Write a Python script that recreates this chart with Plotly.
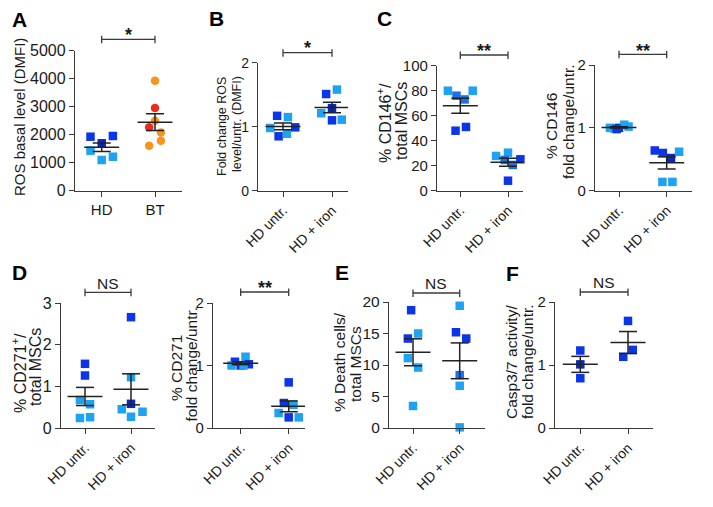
import numpy as np
import plotly.graph_objects as go

W, H = 713, 507
FONT = "Liberation Sans, Arial, sans-serif"

# ---------------- data ----------------
cats_ab = ["HD", "BT"]
cats = ["HD untr.", "HD + iron"]

a_hd = [1929, 1954, 1693, 1429, 1096, 1214]
a_hd_jit = [-0.21, 0.21, 0, -0.21, 0, 0.21]
a_hd_col = ["d", "d", "n", "l", "l", "l"]
a_bt = [3929, 2954, 2500, 2262, 2083, 1786, 1607]
a_bt_jit = [0, 0, 0, -0.11, 0.11, 0.11, -0.11]
a_bt_col = ["o", "r", "o", "r", "o", "o", "o"]

b_untr = [1.17, 1.15, 0.98, 0.99, 0.85, 0.89]
b_untr_jit = [-0.12, 0.10, -0.26, 0.25, -0.09, 0.08]
b_untr_col = ["d", "l", "l", "d", "d", "l"]
b_iron = [1.58, 1.51, 1.29, 1.21, 1.10, 1.11]
b_iron_jit = [0.10, -0.12, 0, -0.22, 0, 0.20]
b_iron_col = ["l", "d", "n", "l", "d", "l"]

c1_untr = [80, 80, 76, 73, 51, 48]
c1_untr_jit = [-0.26, 0.26, -0.08, 0.09, 0.12, -0.10]
c1_untr_col = ["l", "l", "m", "m", "d", "d"]
c1_iron = [30.4, 27.8, 24.6, 25.1, 20.6, 8.0]
c1_iron_jit = [0, -0.25, -0.07, 0.26, 0.10, 0]
c1_iron_col = ["l", "l", "m", "d", "m", "d"]

c2_untr = [1.0, 0.99, 1.0, 1.05, 1.02, 0.98]
c2_untr_jit = [-0.19, -0.10, 0, 0.11, 0.20, -0.05]
c2_untr_col = ["l", "l", "d", "l", "l", "d"]
c2_iron = [0.64, 0.60, 0.52, 0.62, 0.14, 0.14]
c2_iron_jit = [-0.25, -0.08, 0.09, 0.26, -0.09, 0.12]
c2_iron_col = ["d", "d", "n", "l", "l", "l"]

d1_untr = [1.54, 1.26, 0.67, 0.57, 0.24, 0.26]
d1_untr_jit = [0, 0, -0.11, 0.11, -0.11, 0.11]
d1_untr_col = ["d", "d", "l", "l", "l", "l"]
d1_iron = [2.66, 1.22, 0.58, 0.45, 0.39, 0.27]
d1_iron_jit = [0, 0, 0, -0.20, 0.25, 0]
d1_iron_col = ["d", "l", "n", "l", "l", "l"]

d2_untr = [1.06, 1.14, 1.0, 1.0, 1.02, 1.0]
d2_untr_jit = [-0.12, 0.10, -0.19, 0, 0.17, 0.06]
d2_untr_col = ["d", "l", "l", "d", "d", "l"]
d2_iron = [0.73, 0.40, 0.37, 0.24, 0.17, 0.17]
d2_iron_jit = [0, -0.10, 0.10, -0.21, 0, 0.21]
d2_iron_col = ["d", "d", "l", "l", "d", "l"]

e_untr = [18.7, 15.0, 14.2, 11.1, 9.6, 3.5]
e_untr_jit = [-0.04, 0.11, -0.11, -0.11, 0.11, 0]
e_untr_col = ["d", "l", "d", "l", "l", "l"]
e_iron = [19.4, 15.2, 14.2, 8.4, 6.7, 0.1]
e_iron_jit = [0, -0.08, 0.14, 0, 0, 0]
e_iron_col = ["l", "d", "d", "m", "l", "l"]

f_untr = [1.23, 1.01, 0.79]
f_untr_jit = [0, 0, 0]
f_untr_col = ["d", "n", "d"]
f_iron = [1.70, 1.24, 1.13]
f_iron_jit = [0, 0.10, -0.10]
f_iron_col = ["d", "d", "d"]

COL = {"d": "#0b35ea", "n": "#0a26c8", "m": "#1a72e6", "l": "#1ea2f2",
       "o": "#f7941d", "r": "#ec2b1d"}

# ---------------- panel geometry (pixels) ----------------
panels = [
    dict(letter="A", lpos=(19, 20), x0=75, c0=101.7, c1=155, x1=182, ytop=50.7, ybot=190.7,
         ymax=5000, yt=[0, 1000, 2000, 3000, 4000, 5000], ticktext=cats_ab, angle=0, tf=16,
         groups=[(a_hd, a_hd_jit, a_hd_col, "square"), (a_bt, a_bt_jit, a_bt_col, "circle")],
         sig="*", by=39.3, sy=30,
         title=[("ROS basal level (DMFI)", 19, 117, 15)]),
    dict(letter="B", lpos=(216.5, 19), x0=258, c0=283, c1=332, x1=348, ytop=62.7, ybot=190.7,
         ymax=2, yt=[0, 1, 2], ticktext=cats, angle=-45, tf=14,
         groups=[(b_untr, b_untr_jit, b_untr_col, "square"), (b_iron, b_iron_jit, b_iron_col, "square")],
         sig="*", by=52.7, sy=43,
         title=[("Fold change ROS", 222, 127, 12.5), ("level/untr. (DMFI)", 237, 124, 12.5)]),
    dict(letter="C", lpos=(384.5, 19), x0=437, c0=460.3, c1=508, x1=523, ytop=65.7, ybot=190.7,
         ymax=100, yt=[0, 20, 40, 60, 80, 100], ticktext=cats, angle=-45, tf=15,
         groups=[(c1_untr, c1_untr_jit, c1_untr_col, "square"), (c1_iron, c1_iron_jit, c1_iron_col, "square")],
         sig="**", by=55, sy=46,
         title=[("% CD146<sup>+</sup>/", 384, 123, 16), ("total MSCs", 401, 121, 16)]),
    dict(letter=None, x0=595, c0=619, c1=666.7, x1=692, ytop=65, ybot=190.7,
         ymax=2, yt=[0, 1, 2], ticktext=cats, angle=-45, tf=15,
         groups=[(c2_untr, c2_untr_jit, c2_untr_col, "square"), (c2_iron, c2_iron_jit, c2_iron_col, "square")],
         sig="**", by=54.3, sy=46,
         title=[("% CD146", 552, 126, 15.5), ("fold change/untr.", 568, 122, 15.5)]),
    dict(letter="D", lpos=(19.5, 272), x0=61, c0=85, c1=131, x1=155, ytop=303, ybot=428,
         ymax=3, yt=[0, 1, 2, 3], ticktext=cats, angle=-45, tf=16,
         groups=[(d1_untr, d1_untr_jit, d1_untr_col, "square"), (d1_iron, d1_iron_jit, d1_iron_col, "square")],
         sig="NS", by=292.3, sy=283,
         title=[("% CD271<sup>+</sup>/", 19, 373, 16), ("total MSCs", 35, 367, 16)]),
    dict(letter=None, x0=213, c0=240.7, c1=288.7, x1=305, ytop=303, ybot=428,
         ymax=2, yt=[0, 1, 2], ticktext=cats, angle=-45, tf=15,
         groups=[(d2_untr, d2_untr_jit, d2_untr_col, "square"), (d2_iron, d2_iron_jit, d2_iron_col, "square")],
         sig="**", by=292, sy=283,
         title=[("% CD271", 176, 368, 15.5), ("fold change/untr.", 190.5, 364, 15.5)]),
    dict(letter="E", lpos=(341.5, 272), x0=389, c0=413, c1=459.7, x1=485, ytop=302, ybot=428,
         ymax=20, yt=[0, 5, 10, 15, 20], ticktext=cats, angle=-45, tf=15.5,
         groups=[(e_untr, e_untr_jit, e_untr_col, "square"), (e_iron, e_iron_jit, e_iron_col, "square")],
         sig="NS", by=293, sy=283,
         title=[("% Death cells/", 339, 362, 15.5), ("total MSCs", 355, 364, 15.5)]),
    dict(letter="F", lpos=(512, 273), x0=555, c0=580.3, c1=628, x1=653, ytop=302, ybot=428,
         ymax=2, yt=[0, 1, 2], ticktext=cats, angle=-45, tf=15,
         groups=[(f_untr, f_untr_jit, f_untr_col, "square"), (f_iron, f_iron_jit, f_iron_col, "square")],
         sig="NS", by=292, sy=282,
         title=[("Casp3/7 activity/", 511, 362, 15.5), ("fold change/untr.", 527, 362, 15.5)]),
]

AXC = "#3a3a3a"
TXT = "#1a1a1a"

fig = go.Figure()
layout = dict(width=W, height=H, margin=dict(l=0, r=0, t=0, b=0, pad=0, autoexpand=False),
              paper_bgcolor="white", plot_bgcolor="rgba(0,0,0,0)",
              showlegend=False, font=dict(family=FONT, color=TXT))
annotations = []
shapes = []


def px(x):
    return x / W


def py(y):
    return 1 - y / H


for i, p in enumerate(panels, start=1):
    sep = p["c1"] - p["c0"]
    xmin = (p["x0"] - p["c0"]) / sep
    xmax = (p["x1"] - p["c0"]) / sep
    xa = "x" if i == 1 else f"x{i}"
    ya = "y" if i == 1 else f"y{i}"
    xkey = "xaxis" if i == 1 else f"xaxis{i}"
    ykey = "yaxis" if i == 1 else f"yaxis{i}"
    layout[xkey] = dict(domain=[px(p["x0"]), px(p["x1"])], range=[xmin, xmax], anchor=ya,
                        showline=True, linecolor=AXC, linewidth=1.3, showgrid=False, zeroline=False,
                        tickmode="array", tickvals=[0, 1], ticktext=p["ticktext"],
                        tickangle=p["angle"], ticks="outside", ticklen=5, tickwidth=1.3,
                        tickcolor=AXC, automargin=False,
                        tickfont=dict(size=15 if p["angle"] == 0 else 14, family=FONT, color=TXT),
                        fixedrange=True)
    layout[ykey] = dict(domain=[py(p["ybot"]), py(p["ytop"])], range=[0, p["ymax"]], anchor=xa,
                        showline=True, linecolor=AXC, linewidth=1.3, showgrid=False, zeroline=False,
                        tickmode="array", tickvals=p["yt"], ticks="outside", ticklen=5, tickwidth=1.3,
                        tickcolor=AXC, automargin=False,
                        tickfont=dict(size=p["tf"], family=FONT, color=TXT),
                        fixedrange=True)
    half = 17.5 / sep
    cap = 9 / sep
    for k, (vals, jit, cols, sym) in enumerate(p["groups"]):
        fig.add_trace(go.Scatter(
            x=[k + j for j in jit], y=vals, mode="markers", xaxis=xa, yaxis=ya,
            marker=dict(symbol=sym, size=8.5, color=[COL[c] for c in cols], line=dict(width=0)),
            cliponaxis=False, hoverinfo="skip"))
    for k, (vals, jit, cols, sym) in enumerate(p["groups"]):
        m = float(np.mean(vals))
        s = float(np.std(vals, ddof=1) / np.sqrt(len(vals)))
        xs = [k - half, k + half, None, k, k, None, k - cap, k + cap, None, k - cap, k + cap]
        ys = [m, m, None, m - s, m + s, None, m - s, m - s, None, m + s, m + s]
        fig.add_trace(go.Scatter(x=xs, y=ys, mode="lines", xaxis=xa, yaxis=ya,
                                 line=dict(color="#222222", width=1.5),
                                 cliponaxis=False, hoverinfo="skip"))
    # significance bracket
    bx0, bx1, by = p["c0"], p["c1"], p["by"]
    lc = dict(color=AXC, width=1.3)
    shapes.append(dict(type="line", xref="paper", yref="paper", x0=px(bx0), x1=px(bx1),
                       y0=py(by), y1=py(by), line=lc))
    for bx in (bx0, bx1):
        shapes.append(dict(type="line", xref="paper", yref="paper", x0=px(bx), x1=px(bx),
                           y0=py(by - 3.5), y1=py(by + 4), line=lc))
    star = p["sig"] != "NS"
    annotations.append(dict(xref="paper", yref="paper", x=px((bx0 + bx1) / 2),
                            y=py(p["sy"] + (5 if star else 0)),
                            text=("<b>%s</b>" % p["sig"]) if star else p["sig"],
                            showarrow=False, xanchor="center", yanchor="middle",
                            font=dict(size=18 if star else 15.5, family=FONT, color=TXT)))
    for (t, tx, ty, fs) in p["title"]:
        annotations.append(dict(xref="paper", yref="paper", x=px(tx), y=py(ty), text=t,
                                textangle=-90, showarrow=False, xanchor="center",
                                yanchor="middle", font=dict(size=fs, family=FONT, color=TXT)))
    if p["letter"]:
        lx, ly = p["lpos"]
        annotations.append(dict(xref="paper", yref="paper", x=px(lx), y=py(ly),
                                text="<b>%s</b>" % p["letter"], showarrow=False,
                                xanchor="center", yanchor="middle",
                                font=dict(size=21, family=FONT, color="black")))

layout["annotations"] = annotations
layout["shapes"] = shapes
fig.update_layout(**layout)
fig.write_html("out.html", config={"displayModeBar": False},
               post_script="document.body.style.margin='0px';document.body.style.padding='0px';"
                           "document.body.style.overflow='hidden';")
